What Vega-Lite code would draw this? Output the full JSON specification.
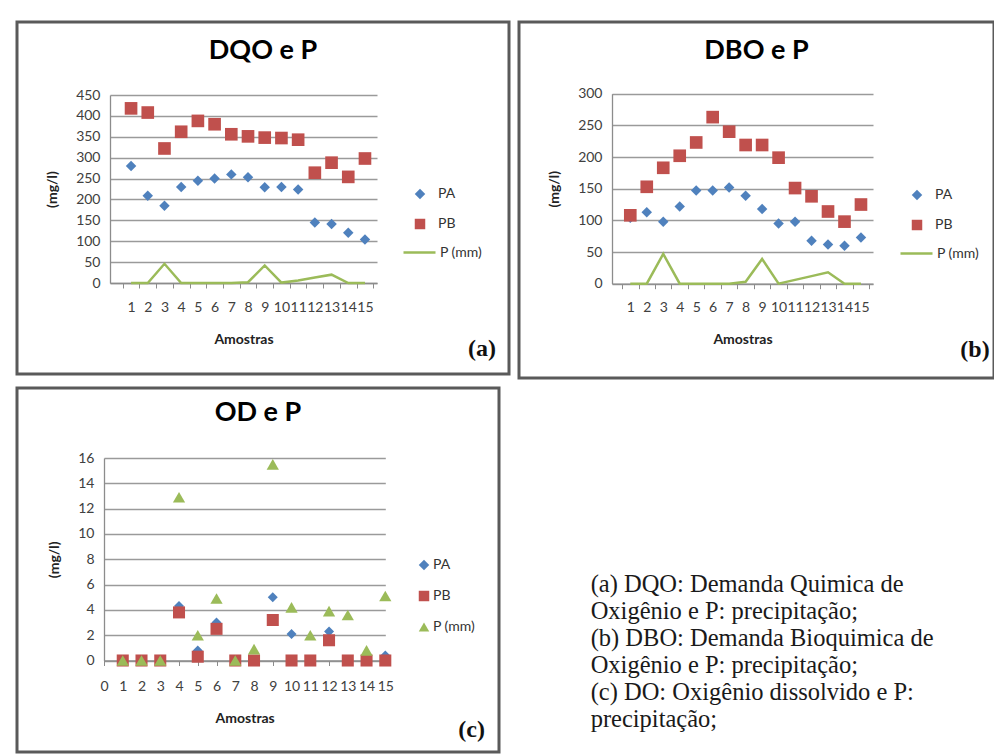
{
  "$schema": "https://vega.github.io/schema/vega-lite/v6.json",
  "background": "white",
  "padding": {"left": 15, "top": 20, "right": 2, "bottom": 4},
  "columns": 2,
  "spacing": 10,
  "bounds": "flush",
  "resolve": {"scale": {"color": "independent", "shape": "independent", "stroke": "independent"}, "legend": {"color": "independent", "shape": "independent", "stroke": "independent"}},
  "config": {
    "font": "Lato",
    "view": {"stroke": "#5a5a5a", "strokeWidth": 3},
    "axis": {"labelFont": "Lato", "labelFontSize": 14, "labelColor": "#404040", "titleFont": "Lato", "titleFontWeight": "bold", "titleColor": "#222222", "titleFontSize": 14, "domainColor": "#8c8c8c", "domainWidth": 1.3, "tickColor": "#8c8c8c", "gridColor": "#9a9a9a", "gridWidth": 1.3, "labelOverlap": false, "labelFlush": false},
    "axisX": {"grid": false, "tickSize": 5, "labelPadding": 12, "titlePadding": 18, "labelAngle": 0},
    "axisY": {"grid": true, "ticks": false, "labelPadding": 10, "titlePadding": 16},
    "legend": {"labelFont": "Lato", "labelFontSize": 14, "labelColor": "#333333", "padding": 0, "labelOffset": 5},
    "title": {"font": "Lato", "fontSize": 27, "fontWeight": "bold", "color": "#000000", "frame": "group", "anchor": "middle", "baseline": "alphabetic"}
  },
  "datasets": {
    "dqo": [
      {"amostra": 1, "series": "PA", "value": 280}, {"amostra": 2, "series": "PA", "value": 209}, {"amostra": 3, "series": "PA", "value": 185}, {"amostra": 4, "series": "PA", "value": 230}, {"amostra": 5, "series": "PA", "value": 245}, {"amostra": 6, "series": "PA", "value": 250}, {"amostra": 7, "series": "PA", "value": 260}, {"amostra": 8, "series": "PA", "value": 253}, {"amostra": 9, "series": "PA", "value": 229}, {"amostra": 10, "series": "PA", "value": 230}, {"amostra": 11, "series": "PA", "value": 224}, {"amostra": 12, "series": "PA", "value": 145}, {"amostra": 13, "series": "PA", "value": 141}, {"amostra": 14, "series": "PA", "value": 120}, {"amostra": 15, "series": "PA", "value": 104},
      {"amostra": 1, "series": "PB", "value": 418}, {"amostra": 2, "series": "PB", "value": 408}, {"amostra": 3, "series": "PB", "value": 322}, {"amostra": 4, "series": "PB", "value": 362}, {"amostra": 5, "series": "PB", "value": 388}, {"amostra": 6, "series": "PB", "value": 380}, {"amostra": 7, "series": "PB", "value": 356}, {"amostra": 8, "series": "PB", "value": 351}, {"amostra": 9, "series": "PB", "value": 348}, {"amostra": 10, "series": "PB", "value": 347}, {"amostra": 11, "series": "PB", "value": 343}, {"amostra": 12, "series": "PB", "value": 264}, {"amostra": 13, "series": "PB", "value": 288}, {"amostra": 14, "series": "PB", "value": 254}, {"amostra": 15, "series": "PB", "value": 298},
      {"amostra": 1, "series": "P (mm)", "value": 0}, {"amostra": 2, "series": "P (mm)", "value": 0}, {"amostra": 3, "series": "P (mm)", "value": 46}, {"amostra": 4, "series": "P (mm)", "value": 0}, {"amostra": 5, "series": "P (mm)", "value": 0}, {"amostra": 6, "series": "P (mm)", "value": 0}, {"amostra": 7, "series": "P (mm)", "value": 0}, {"amostra": 8, "series": "P (mm)", "value": 2}, {"amostra": 9, "series": "P (mm)", "value": 42}, {"amostra": 10, "series": "P (mm)", "value": 1}, {"amostra": 11, "series": "P (mm)", "value": 6}, {"amostra": 12, "series": "P (mm)", "value": 13}, {"amostra": 13, "series": "P (mm)", "value": 20}, {"amostra": 14, "series": "P (mm)", "value": 0}, {"amostra": 15, "series": "P (mm)", "value": 0}
    ],
    "dbo": [
      {"amostra": 1, "series": "PA", "value": 104}, {"amostra": 2, "series": "PA", "value": 113}, {"amostra": 3, "series": "PA", "value": 98}, {"amostra": 4, "series": "PA", "value": 122}, {"amostra": 5, "series": "PA", "value": 147}, {"amostra": 6, "series": "PA", "value": 147}, {"amostra": 7, "series": "PA", "value": 152}, {"amostra": 8, "series": "PA", "value": 139}, {"amostra": 9, "series": "PA", "value": 118}, {"amostra": 10, "series": "PA", "value": 95}, {"amostra": 11, "series": "PA", "value": 98}, {"amostra": 12, "series": "PA", "value": 68}, {"amostra": 13, "series": "PA", "value": 62}, {"amostra": 14, "series": "PA", "value": 60}, {"amostra": 15, "series": "PA", "value": 73},
      {"amostra": 1, "series": "PB", "value": 108}, {"amostra": 2, "series": "PB", "value": 153}, {"amostra": 3, "series": "PB", "value": 183}, {"amostra": 4, "series": "PB", "value": 202}, {"amostra": 5, "series": "PB", "value": 223}, {"amostra": 6, "series": "PB", "value": 263}, {"amostra": 7, "series": "PB", "value": 240}, {"amostra": 8, "series": "PB", "value": 219}, {"amostra": 9, "series": "PB", "value": 219}, {"amostra": 10, "series": "PB", "value": 199}, {"amostra": 11, "series": "PB", "value": 151}, {"amostra": 12, "series": "PB", "value": 138}, {"amostra": 13, "series": "PB", "value": 114}, {"amostra": 14, "series": "PB", "value": 98}, {"amostra": 15, "series": "PB", "value": 125},
      {"amostra": 1, "series": "P (mm)", "value": 0}, {"amostra": 2, "series": "P (mm)", "value": 0}, {"amostra": 3, "series": "P (mm)", "value": 47}, {"amostra": 4, "series": "P (mm)", "value": 0}, {"amostra": 5, "series": "P (mm)", "value": 0}, {"amostra": 6, "series": "P (mm)", "value": 0}, {"amostra": 7, "series": "P (mm)", "value": 0}, {"amostra": 8, "series": "P (mm)", "value": 3}, {"amostra": 9, "series": "P (mm)", "value": 39}, {"amostra": 10, "series": "P (mm)", "value": 0}, {"amostra": 11, "series": "P (mm)", "value": 6}, {"amostra": 12, "series": "P (mm)", "value": 12}, {"amostra": 13, "series": "P (mm)", "value": 18}, {"amostra": 14, "series": "P (mm)", "value": 0}, {"amostra": 15, "series": "P (mm)", "value": 0}
    ],
    "od": [
      {"amostra": 1, "series": "PA", "value": 0}, {"amostra": 2, "series": "PA", "value": 0}, {"amostra": 3, "series": "PA", "value": 0}, {"amostra": 4, "series": "PA", "value": 4.3}, {"amostra": 5, "series": "PA", "value": 0.8}, {"amostra": 6, "series": "PA", "value": 3.0}, {"amostra": 7, "series": "PA", "value": 0}, {"amostra": 8, "series": "PA", "value": 0}, {"amostra": 9, "series": "PA", "value": 5.0}, {"amostra": 10, "series": "PA", "value": 2.1}, {"amostra": 11, "series": "PA", "value": 0}, {"amostra": 12, "series": "PA", "value": 2.3}, {"amostra": 13, "series": "PA", "value": 0}, {"amostra": 14, "series": "PA", "value": 0}, {"amostra": 15, "series": "PA", "value": 0.4},
      {"amostra": 1, "series": "PB", "value": 0}, {"amostra": 2, "series": "PB", "value": 0}, {"amostra": 3, "series": "PB", "value": 0}, {"amostra": 4, "series": "PB", "value": 3.8}, {"amostra": 5, "series": "PB", "value": 0.3}, {"amostra": 6, "series": "PB", "value": 2.5}, {"amostra": 7, "series": "PB", "value": 0}, {"amostra": 8, "series": "PB", "value": 0}, {"amostra": 9, "series": "PB", "value": 3.2}, {"amostra": 10, "series": "PB", "value": 0}, {"amostra": 11, "series": "PB", "value": 0}, {"amostra": 12, "series": "PB", "value": 1.6}, {"amostra": 13, "series": "PB", "value": 0}, {"amostra": 14, "series": "PB", "value": 0}, {"amostra": 15, "series": "PB", "value": 0},
      {"amostra": 1, "series": "P (mm)", "value": 0}, {"amostra": 2, "series": "P (mm)", "value": 0}, {"amostra": 3, "series": "P (mm)", "value": 0}, {"amostra": 4, "series": "P (mm)", "value": 12.9}, {"amostra": 5, "series": "P (mm)", "value": 2.0}, {"amostra": 6, "series": "P (mm)", "value": 4.9}, {"amostra": 7, "series": "P (mm)", "value": 0}, {"amostra": 8, "series": "P (mm)", "value": 0.9}, {"amostra": 9, "series": "P (mm)", "value": 15.5}, {"amostra": 10, "series": "P (mm)", "value": 4.2}, {"amostra": 11, "series": "P (mm)", "value": 2.0}, {"amostra": 12, "series": "P (mm)", "value": 3.9}, {"amostra": 13, "series": "P (mm)", "value": 3.6}, {"amostra": 14, "series": "P (mm)", "value": 0.8}, {"amostra": 15, "series": "P (mm)", "value": 5.1}
    ]
  },
  "concat": [
    {
      "name": "pa",
      "width": 492,
      "height": 352,
      "title": {"text": "DQO e P", "offset": -43},
      "layer": [
        {
          "data": {"name": "dqo"},
          "transform": [{"filter": "datum.series === 'PA'"}],
          "mark": {"type": "point", "filled": true, "opacity": 1, "size": 110},
          "encoding": {
            "x": {"field": "amostra", "type": "quantitative", "scale": {"domain": [-0.26, 15.72], "range": [93, 360], "nice": false, "zero": false}, "axis": {"values": [0,1,2,3,4,5,6,7,8,9,10,11,12,13,14,15], "labelExpr": "datum.value === 0 ? '' : datum.label", "tickOffset": 8.36, "labelOffset": -8.36, "offset": -91, "title": "Amostras"}},
            "y": {"field": "value", "type": "quantitative", "scale": {"domain": [0, 450], "range": [261, 73], "nice": false, "zero": false}, "axis": {"values": [0,50,100,150,200,250,300,350,400,450], "offset": -93, "title": "(mg/l)"}},
            "color": {"field": "series", "type": "nominal", "scale": {"domain": ["PA", "PB"], "range": ["#4F81BD", "#C0504D"]}, "legend": {"title": null, "orient": "none", "legendX": 396, "legendY": 165, "symbolSize": 110, "rowPadding": 16, "labelOffset": 11}},
            "shape": {"field": "series", "type": "nominal", "scale": {"domain": ["PA", "PB"], "range": ["diamond", "square"]}, "legend": {"title": null, "orient": "none", "legendX": 396, "legendY": 165, "symbolSize": 110, "rowPadding": 16, "labelOffset": 11}}
          }
        },
        {
          "data": {"name": "dqo"},
          "transform": [{"filter": "datum.series === 'PB'"}],
          "mark": {"type": "point", "filled": true, "opacity": 1, "size": 160},
          "encoding": {
            "x": {"field": "amostra", "type": "quantitative", "axis": {"values": [0,1,2,3,4,5,6,7,8,9,10,11,12,13,14,15], "labelExpr": "datum.value === 0 ? '' : datum.label", "tickOffset": 8.36, "labelOffset": -8.36, "offset": -91, "title": "Amostras"}},
            "y": {"field": "value", "type": "quantitative", "axis": {"values": [0,50,100,150,200,250,300,350,400,450], "offset": -93, "title": "(mg/l)"}},
            "color": {"field": "series", "type": "nominal"},
            "shape": {"field": "series", "type": "nominal"}
          }
        },
        {
          "data": {"name": "dqo"},
          "transform": [{"filter": "datum.series === 'P (mm)'"}],
          "mark": {"type": "line", "strokeWidth": 2.5},
          "encoding": {
            "x": {"field": "amostra", "type": "quantitative", "axis": {"values": [0,1,2,3,4,5,6,7,8,9,10,11,12,13,14,15], "labelExpr": "datum.value === 0 ? '' : datum.label", "tickOffset": 8.36, "labelOffset": -8.36, "offset": -91, "title": "Amostras"}},
            "y": {"field": "value", "type": "quantitative", "axis": {"values": [0,50,100,150,200,250,300,350,400,450], "offset": -93, "title": "(mg/l)"}},
            "stroke": {"field": "series", "type": "nominal", "scale": {"domain": ["P (mm)"], "range": ["#9BBB59"]}, "legend": {"title": null, "orient": "none", "legendX": 385, "legendY": 213, "symbolSize": 1024, "symbolStrokeWidth": 2.5, "labelOffset": 3}}
          }
        },
        {
          "data": {"values": [{"label": "(a)"}]},
          "mark": {"type": "text", "font": "Liberation Serif", "fontWeight": "bold", "fontSize": 24, "align": "center", "baseline": "middle", "color": "#111111", "clip": false},
          "encoding": {
            "x": {"datum": 22.0, "type": "quantitative", "axis": {"values": [0,1,2,3,4,5,6,7,8,9,10,11,12,13,14,15], "labelExpr": "datum.value === 0 ? '' : datum.label", "tickOffset": 8.36, "labelOffset": -8.36, "offset": -91, "title": "Amostras"}},
            "y": {"datum": -158, "type": "quantitative", "axis": {"values": [0,50,100,150,200,250,300,350,400,450], "offset": -93, "title": "(mg/l)"}},
            "text": {"field": "label"}
          }
        }
      ]
    },
    {
      "name": "pb",
      "width": 475,
      "height": 356,
      "title": {"text": "DBO e P", "offset": -43},
      "layer": [
        {
          "data": {"name": "dbo"},
          "transform": [{"filter": "datum.series === 'PA'"}],
          "mark": {"type": "point", "filled": true, "opacity": 1, "size": 110},
          "encoding": {
            "x": {"field": "amostra", "type": "quantitative", "scale": {"domain": [-0.11, 15.73], "range": [93, 354], "nice": false, "zero": false}, "axis": {"values": [0,1,2,3,4,5,6,7,8,9,10,11,12,13,14,15], "labelExpr": "datum.value === 0 ? '' : datum.label", "tickOffset": 8.24, "labelOffset": -8.24, "offset": -94.3, "title": "Amostras"}},
            "y": {"field": "value", "type": "quantitative", "scale": {"domain": [0, 300], "range": [261.7, 71.7], "nice": false, "zero": false}, "axis": {"values": [0,50,100,150,200,250,300], "offset": -93, "title": "(mg/l)"}},
            "color": {"field": "series", "type": "nominal", "scale": {"domain": ["PA", "PB"], "range": ["#4F81BD", "#C0504D"]}, "legend": {"title": null, "orient": "none", "legendX": 391, "legendY": 166, "symbolSize": 110, "rowPadding": 16, "labelOffset": 11}},
            "shape": {"field": "series", "type": "nominal", "scale": {"domain": ["PA", "PB"], "range": ["diamond", "square"]}, "legend": {"title": null, "orient": "none", "legendX": 391, "legendY": 166, "symbolSize": 110, "rowPadding": 16, "labelOffset": 11}}
          }
        },
        {
          "data": {"name": "dbo"},
          "transform": [{"filter": "datum.series === 'PB'"}],
          "mark": {"type": "point", "filled": true, "opacity": 1, "size": 160},
          "encoding": {
            "x": {"field": "amostra", "type": "quantitative", "axis": {"values": [0,1,2,3,4,5,6,7,8,9,10,11,12,13,14,15], "labelExpr": "datum.value === 0 ? '' : datum.label", "tickOffset": 8.24, "labelOffset": -8.24, "offset": -94.3, "title": "Amostras"}},
            "y": {"field": "value", "type": "quantitative", "axis": {"values": [0,50,100,150,200,250,300], "offset": -93, "title": "(mg/l)"}},
            "color": {"field": "series", "type": "nominal"},
            "shape": {"field": "series", "type": "nominal"}
          }
        },
        {
          "data": {"name": "dbo"},
          "transform": [{"filter": "datum.series === 'P (mm)'"}],
          "mark": {"type": "line", "strokeWidth": 2.5},
          "encoding": {
            "x": {"field": "amostra", "type": "quantitative", "axis": {"values": [0,1,2,3,4,5,6,7,8,9,10,11,12,13,14,15], "labelExpr": "datum.value === 0 ? '' : datum.label", "tickOffset": 8.24, "labelOffset": -8.24, "offset": -94.3, "title": "Amostras"}},
            "y": {"field": "value", "type": "quantitative", "axis": {"values": [0,50,100,150,200,250,300], "offset": -93, "title": "(mg/l)"}},
            "stroke": {"field": "series", "type": "nominal", "scale": {"domain": ["P (mm)"], "range": ["#9BBB59"]}, "legend": {"title": null, "orient": "none", "legendX": 380, "legendY": 214, "symbolSize": 1024, "symbolStrokeWidth": 2.5, "labelOffset": 3}}
          }
        },
        {
          "data": {"values": [{"label": "(b)"}]},
          "mark": {"type": "text", "font": "Liberation Serif", "fontWeight": "bold", "fontSize": 24, "align": "center", "baseline": "middle", "color": "#111111", "clip": false},
          "encoding": {
            "x": {"datum": 21.92, "type": "quantitative", "axis": {"values": [0,1,2,3,4,5,6,7,8,9,10,11,12,13,14,15], "labelExpr": "datum.value === 0 ? '' : datum.label", "tickOffset": 8.24, "labelOffset": -8.24, "offset": -94.3, "title": "Amostras"}},
            "y": {"datum": -104.7, "type": "quantitative", "axis": {"values": [0,50,100,150,200,250,300], "offset": -93, "title": "(mg/l)"}},
            "text": {"field": "label"}
          }
        }
      ]
    },
    {
      "name": "pc",
      "width": 482,
      "height": 364,
      "title": {"text": "OD e P", "offset": -39},
      "layer": [
        {
          "data": {"name": "od"},
          "transform": [{"filter": "datum.series === 'PA'"}],
          "mark": {"type": "point", "filled": true, "opacity": 1, "size": 100},
          "encoding": {
            "x": {"field": "amostra", "type": "quantitative", "scale": {"domain": [0, 15], "range": [87, 368.3], "nice": false, "zero": false}, "axis": {"values": [0,1,2,3,4,5,6,7,8,9,10,11,12,13,14,15], "offset": -91.5, "labelPadding": 14, "title": "Amostras"}},
            "y": {"field": "value", "type": "quantitative", "scale": {"domain": [0, 16], "range": [272.5, 70], "nice": false, "zero": false}, "axis": {"values": [0,2,4,6,8,10,12,14,16], "offset": -87, "title": "(mg/l)"}},
            "color": {"field": "series", "type": "nominal", "scale": {"domain": ["PA", "PB", "P (mm)"], "range": ["#4F81BD", "#C0504D", "#9BBB59"]}, "legend": {"title": null, "orient": "none", "legendX": 400, "legendY": 170, "symbolSize": 110, "rowPadding": 17, "labelOffset": 2}},
            "shape": {"field": "series", "type": "nominal", "scale": {"domain": ["PA", "PB", "P (mm)"], "range": ["diamond", "square", "triangle-up"]}, "legend": {"title": null, "orient": "none", "legendX": 400, "legendY": 170, "symbolSize": 110, "rowPadding": 17, "labelOffset": 2}}
          }
        },
        {
          "data": {"name": "od"},
          "transform": [{"filter": "datum.series === 'PB'"}],
          "mark": {"type": "point", "filled": true, "opacity": 1, "size": 145},
          "encoding": {
            "x": {"field": "amostra", "type": "quantitative", "axis": {"values": [0,1,2,3,4,5,6,7,8,9,10,11,12,13,14,15], "offset": -91.5, "labelPadding": 14, "title": "Amostras"}},
            "y": {"field": "value", "type": "quantitative", "axis": {"values": [0,2,4,6,8,10,12,14,16], "offset": -87, "title": "(mg/l)"}},
            "color": {"field": "series", "type": "nominal"},
            "shape": {"field": "series", "type": "nominal"}
          }
        },
        {
          "data": {"name": "od"},
          "transform": [{"filter": "datum.series === 'P (mm)'"}],
          "mark": {"type": "point", "filled": true, "opacity": 1, "size": 150},
          "encoding": {
            "x": {"field": "amostra", "type": "quantitative", "axis": {"values": [0,1,2,3,4,5,6,7,8,9,10,11,12,13,14,15], "offset": -91.5, "labelPadding": 14, "title": "Amostras"}},
            "y": {"field": "value", "type": "quantitative", "axis": {"values": [0,2,4,6,8,10,12,14,16], "offset": -87, "title": "(mg/l)"}},
            "color": {"field": "series", "type": "nominal"},
            "shape": {"field": "series", "type": "nominal"}
          }
        },
        {
          "data": {"values": [{"label": "(c)"}]},
          "mark": {"type": "text", "font": "Liberation Serif", "fontWeight": "bold", "fontSize": 24, "align": "center", "baseline": "middle", "color": "#111111", "clip": false},
          "encoding": {
            "x": {"datum": 19.6, "type": "quantitative", "axis": {"values": [0,1,2,3,4,5,6,7,8,9,10,11,12,13,14,15], "offset": -91.5, "labelPadding": 14, "title": "Amostras"}},
            "y": {"datum": -5.49, "type": "quantitative", "axis": {"values": [0,2,4,6,8,10,12,14,16], "offset": -87, "title": "(mg/l)"}},
            "text": {"field": "label"}
          }
        },
        {
          "data": {"values": [{"label": "(a) DQO: Demanda Quimica de\nOxigênio e P: precipitação;\n(b) DBO: Demanda Bioquimica de\nOxigênio e P: precipitação;\n(c) DO: Oxigênio dissolvido e P:\nprecipitação;"}]},
          "mark": {"type": "text", "font": "Liberation Serif", "fontSize": 24.5, "align": "left", "baseline": "top", "lineBreak": "\n", "lineHeight": 27, "color": "#1a1a1a", "clip": false},
          "encoding": {
            "x": {"datum": 25.95, "type": "quantitative", "axis": {"values": [0,1,2,3,4,5,6,7,8,9,10,11,12,13,14,15], "offset": -91.5, "labelPadding": 14, "title": "Amostras"}},
            "y": {"datum": 6.95, "type": "quantitative", "axis": {"values": [0,2,4,6,8,10,12,14,16], "offset": -87, "title": "(mg/l)"}},
            "text": {"field": "label"}
          }
        }
      ]
    }
  ]
}
